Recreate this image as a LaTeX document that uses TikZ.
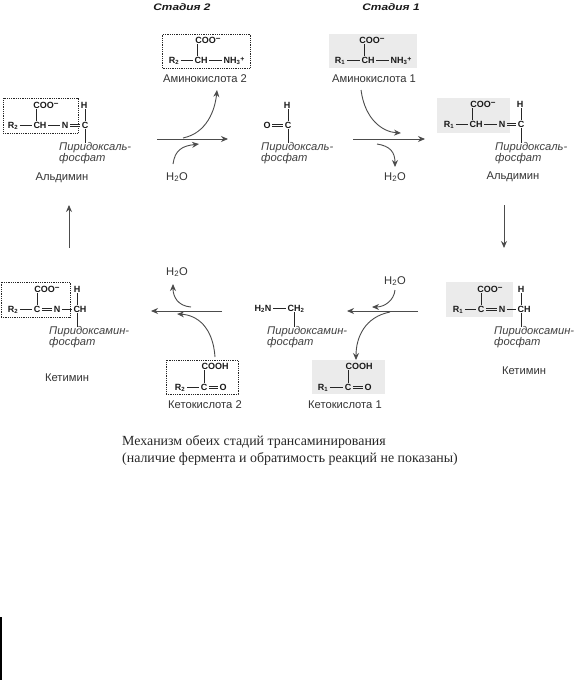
\documentclass[tikz,border=0pt]{standalone}
\usepackage{fontspec}
\setmainfont{Liberation Sans}
\newfontfamily\captionserif{Liberation Serif}
\newfontfamily\stagewide[FakeStretch=1.25]{Liberation Sans}
\usetikzlibrary{arrows.meta}
\newcommand{\coo}{COO\raisebox{1.8pt}{\fontsize{8}{8}\selectfont−}}
\newcommand{\nhp}{NH\textsubscript{3}\raisebox{1.8pt}{\fontsize{7}{7}\selectfont+}}
\tikzstyle{atom}=[font=\bfseries\fontsize{9}{9}\selectfont,text=black!90,inner xsep=1.5pt,inner ysep=1pt,text height=6.5pt,text depth=0pt]
\tikzstyle{compound}=[font=\fontsize{11.2}{12}\selectfont,text=black!80,inner sep=0pt]
\tikzstyle{cofactor}=[font=\itshape\fontsize{11.2}{10.8}\selectfont,text=black!75,align=left,anchor=north west,inner sep=0pt]
\tikzstyle{stage}=[font=\stagewide\bfseries\itshape\fontsize{9.5}{10}\selectfont,text=black!90,inner sep=0pt]
\tikzstyle{greybox}=[fill=black!8,inner sep=0pt]
\tikzstyle{dotbox}=[draw=black!85,densely dotted,line width=0.8pt,inner sep=0pt]
\tikzstyle{edge}=[draw,black!70,line width=0.9pt,-{Stealth[length=7pt,width=6pt]}]
\tikzstyle{bond}=[draw,black!85,line width=0.8pt]
\tikzstyle{dblbond}=[draw,black!85,line width=0.7pt]
\begin{document}
\begin{tikzpicture}[x=1pt,y=-1pt]
    \useasboundingbox (0,0) rectangle (581,680);

    % First we draw the boxes
    \foreach \pos/\name/\w/\h in {{(373,51)/boxa1/88/34}, {(473.5,115.5)/boxb1/73/35}, {(479.5,299.5)/boxk1/67/35}, {(348.5,377)/boxc1/73/34}}
        \node[greybox,minimum width=\w pt,minimum height=\h pt] (\name) at \pos {};
    \foreach \pos/\name/\w/\h in {{(206.5,51)/boxa2/88/34}, {(40.5,115.5)/boxb2/75/35}, {(35.5,299.5)/boxk2/69/35}, {(202,377)/boxc2/72/34}}
        \node[dotbox,minimum width=\w pt,minimum height=\h pt] (\name) at \pos {};

    % Then the atoms
    \foreach \pos/\name/\label in {{(208,40)/a2coo/\coo}, {(201,60)/a2ch/CH}, {(174,60)/a2r/R\textsubscript{2}}, {(234,60)/a2nh/\nhp},
        {(46,105)/b2coo/\coo}, {(84,105)/b2h/H}, {(13,125)/b2r/R\textsubscript{2}}, {(40,125)/b2ch/CH}, {(65,125)/b2n/N}, {(85,125)/b2c/C},
        {(287,105)/ph/H}, {(288,125)/pc/C}, {(267,125)/po/O},
        {(372,40)/a1coo/\coo}, {(368,60)/a1ch/CH}, {(340,60)/a1r/R\textsubscript{1}}, {(401,60)/a1nh/\nhp},
        {(483,104)/b1coo/\coo}, {(520,104)/b1h/H}, {(449,124)/b1r/R\textsubscript{1}}, {(476,124)/b1ch/CH}, {(502,124)/b1n/N}, {(521,124)/b1c/C},
        {(47,289)/k2coo/\coo}, {(77,289)/k2h/H}, {(13,309)/k2r/R\textsubscript{2}}, {(37,309)/k2c/C}, {(57,309)/k2n/N}, {(80,309)/k2ch/CH},
        {(263,308)/mn/H\textsubscript{2}N}, {(296,308)/mc/CH\textsubscript{2}},
        {(490,289)/k1coo/\coo}, {(521,289)/k1h/H}, {(458,309)/k1r/R\textsubscript{1}}, {(481,309)/k1c/C}, {(502,309)/k1n/N}, {(524,309)/k1ch/CH},
        {(215,366)/c2oh/COOH}, {(180,387)/c2r/R\textsubscript{2}}, {(204,387)/c2c/C}, {(223,387)/c2o/O},
        {(359,366)/c1oh/COOH}, {(323,387)/c1r/R\textsubscript{1}}, {(348,387)/c1c/C}, {(368,387)/c1o/O}}
        \node[atom] (\name) at \pos {\label};

    % Names of the compounds
    \foreach \pos/\name/\label in {{(205,79)/namea2/Аминокислота 2}, {(374,79)/namea1/Аминокислота 1}, {(62,178)/nameb2/Альдимин}, {(513,177)/nameb1/Альдимин},
        {(67,378)/namek2/Кетимин}, {(524,371)/namek1/Кетимин}, {(205,405)/namec2/Кетокислота 2}, {(345,405)/namec1/Кетокислота 1},
        {(177,177)/wa/H\textsubscript{2}O}, {(395,177)/wb/H\textsubscript{2}O}, {(177,272)/wc/H\textsubscript{2}O}, {(395,281)/wd/H\textsubscript{2}O}}
        \node[compound] (\name) at \pos {\label};
    \foreach \pos/\name/\label in {{(59,142.5)/plpb2/Пиридоксаль-\\фосфат}, {(261,142.5)/plp/Пиридоксаль-\\фосфат}, {(495,142.5)/plpb1/Пиридоксаль-\\фосфат},
        {(49,326.5)/pmpk2/Пиридоксамин-\\фосфат}, {(267,326.5)/pmp/Пиридоксамин-\\фосфат}, {(494,326.5)/pmpk1/Пиридоксамин-\\фосфат}}
        \node[cofactor] (\name) at \pos {\label};
    \node[stage] (stage2) at (182,7) {Стадия 2};
    \node[stage] (stage1) at (391,7) {Стадия 1};
    \node[anchor=north west,align=left,inner sep=0pt,text=black!85,font=\captionserif\fontsize{13.9}{17.5}\selectfont] (caption) at (122,435) {Механизм обеих стадий трансаминирования\\(наличие фермента и обратимость реакций не показаны)};

    % Connect atoms with bonds
    \foreach \source/\dest in {a2r/a2ch, a2ch/a2nh, b2r/b2ch, b2ch/b2n, a1r/a1ch, a1ch/a1nh, b1r/b1ch, b1ch/b1n, k2r/k2c, k2n/k2ch, mn/mc, k1r/k1c, k1n/k1ch, c2r/c2c, c1r/c1c}
        \path[bond] (\source) -- (\dest);
    \foreach \source/\dest in {b2n/b2c, po/pc, b1n/b1c, k2c/k2n, k1c/k1n, c2c/c2o, c1c/c1o} {
        \path[dblbond] ([yshift=1pt]\source.east) -- ([yshift=1pt]\dest.west);
        \path[dblbond] ([yshift=-1pt]\source.east) -- ([yshift=-1pt]\dest.west);
    }
    \foreach \source/\dest in {a2ch.130/a2coo, b2ch.130/b2coo, b2c.north/b2h, pc.north/ph, a1ch.130/a1coo, b1ch.130/b1coo, b1c.north/b1h, k2c.north/k2coo, k2ch.120/k2h, k1c.north/k1coo, k1ch.120/k1h, c2c.north/c2oh, c1c.north/c1oh}
        \path[bond] (\source) -- (\source |- \dest.south);
    \foreach \source/\dest in {b2c.south/plpb2, pc.south/plp, b1c.south/plpb1, k2ch.-120/pmpk2, k1ch.-120/pmpk1, mc.-110/pmp}
        \path[bond] (\source) -- (\source |- \dest.north);

    % Free ends of the arrows
    \foreach \pos/\name in {{(157,139)/sa}, {(228,139)/ta}, {(183,138)/ua}, {(217,90)/va}, {(199,144)/xa},
        {(353,139)/sb}, {(425,139)/tb}, {(361,90)/ub}, {(401,133)/vb}, {(377,144)/xb},
        {(222,311)/sc}, {(151,311)/tc}, {(191,307)/uc}, {(173,284)/vc}, {(215,357)/wcs}, {(177,314)/xc},
        {(418,311)/sd}, {(347,311)/td}, {(372,307)/ud}, {(390,312)/vd}, {(356,360)/xd}, {(395,290)/wds},
        {(504,205)/se}, {(504,248)/te}, {(69,248)/sf}, {(69,205)/tf}, {(173,164)/wat}, {(395,167)/wbt}}
        \node[coordinate] (\name) at \pos {};

    % Arrows
    \foreach \source/\dest in {sa/ta, sb/tb, sc/tc, sd/td, se/te, sf/tf}
        \path[edge] (\source) -- (\dest);
    \path[edge] (ua) .. controls (207,133) and (215,110) .. (va);
    \path[edge] (wat) .. controls (175,150) and (182,146) .. (xa);
    \path[edge] (ub) .. controls (365,120) and (383,132) .. (vb);
    \path[edge] (xb) .. controls (390,146) and (395,152) .. (wbt);
    \path[edge] (uc) .. controls (178,306) and (173,297) .. (vc);
    \path[edge] (wcs) .. controls (213,327) and (197,315) .. (xc);
    \path[edge] (wds) .. controls (394,300) and (385,307) .. (ud);
    \path[edge] (vd) .. controls (365,317) and (356,337) .. (xd);

    % Line at the page edge
    \coordinate (edgetop) at (0.8,617);
    \coordinate (edgebot) at (0.8,680);
    \draw[line width=1.6pt] (edgetop) -- (edgebot);
\end{tikzpicture}
\end{document}
